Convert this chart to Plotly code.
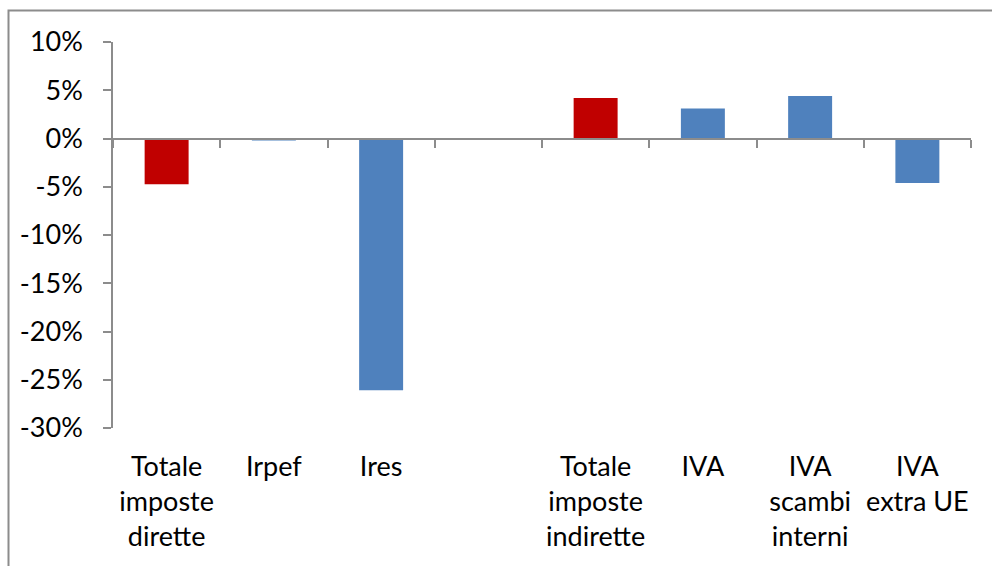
import plotly.graph_objects as go

categories = ["Totale<br>imposte<br>dirette", "Irpef", "Ires", " ",
              "Totale<br>imposte<br>indirette", "IVA", "IVA<br>scambi<br>interni",
              "IVA<br>extra UE"]
values = [-4.75, -0.2, -26.1, None, 4.2, 3.1, 4.4, -4.6]
bar_colors = ["#C00000", "#4F81BD", "#4F81BD", "#4F81BD",
              "#C00000", "#4F81BD", "#4F81BD", "#4F81BD"]
y_ticks = [-30, -25, -20, -15, -10, -5, 0, 5, 10]
y_ticktext = [f"{v}%" for v in y_ticks]

W, H = 992, 566
ML, MR, MT, MB = 113, 21, 42, 138
pw, ph = W - ML - MR, H - MT - MB
axis_col = "#8C8C8C"
font = dict(family="Lato, 'Noto Sans', sans-serif", size=27, color="#000000")

fig = go.Figure()
fig.add_trace(go.Bar(x=categories, y=values, marker=dict(color=bar_colors, line=dict(width=0)),
                     width=0.41, showlegend=False, hoverinfo="skip"))
fig.add_trace(go.Scatter(x=categories, y=[None] * len(categories), xaxis="x2",
                         showlegend=False, hoverinfo="skip", mode="markers"))

ymin, ymax = -30, 10
fig.update_layout(
    width=W, height=H,
    margin=dict(l=ML, r=MR, t=MT, b=MB, pad=0),
    paper_bgcolor="white", plot_bgcolor="white",
    font=font,
    xaxis=dict(type="category", categoryorder="array", categoryarray=categories,
               showline=False, showgrid=False, zeroline=False, ticks="",
               tickfont=font, tickangle=0, ticklabelstandoff=20,
               range=[-0.5, len(categories) - 0.5]),
    xaxis2=dict(type="category", overlaying="x", anchor="free",
                position=(0 - ymin) / (ymax - ymin), matches="x",
                showline=True, linecolor=axis_col, linewidth=2,
                ticks="outside", tickson="boundaries", ticklen=8, tickwidth=1.5,
                tickcolor=axis_col, showticklabels=False, showgrid=False, zeroline=False),
    yaxis=dict(range=[ymin, ymax], tickvals=y_ticks, ticktext=y_ticktext,
               showline=True, linecolor=axis_col, linewidth=1.5,
               ticks="outside", ticklen=8, tickwidth=1.5, tickcolor=axis_col,
               showgrid=False, zeroline=False, tickfont=font, ticklabelstandoff=15),
    shapes=[dict(type="rect", xref="paper", yref="paper",
                 x0=(8.5 - ML) / pw, x1=1.5, y0=-1.0, y1=1 + (MT - 10.5) / ph,
                 line=dict(color=axis_col, width=2), fillcolor="rgba(0,0,0,0)",
                 layer="below")],
)

fig.write_html("out.html")
